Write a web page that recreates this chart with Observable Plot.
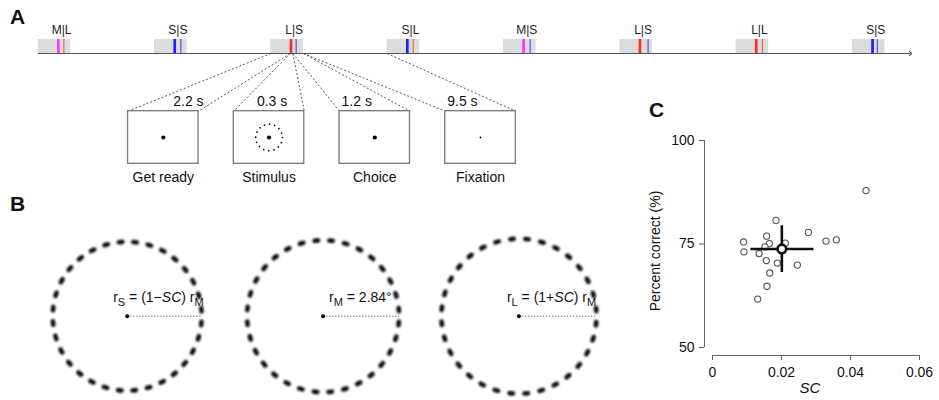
<!DOCTYPE html>
<html>
<head>
<meta charset="utf-8">
<script src="https://cdn.jsdelivr.net/npm/d3@7"></script>
<script src="https://cdn.jsdelivr.net/npm/@observablehq/plot@0.6"></script>
<style>
  body { margin: 0; background: #fff; }
  #fig { position: relative; width: 939px; height: 400px; font-family: "Liberation Sans", Arial, sans-serif; color: #111; }
  .panel { position: absolute; }
  .letter { position: absolute; font-weight: bold; font-size: 21px; line-height: 21px; }
  #panelC g[aria-label="x-axis tick"], #panelC g[aria-label="y-axis tick"] { stroke: #666; }
</style>
</head>
<body>
<div id="fig">
  <div class="letter" style="left:10px;top:5.5px">A</div>
  <div class="letter" style="left:10px;top:193px">B</div>
  <div class="letter" style="left:649px;top:99px">C</div>
  <div class="panel" id="panelA" style="left:0;top:0"></div>
  <div class="panel" id="panelB" style="left:0;top:190px"></div>
  <div class="panel" id="panelC" style="left:630px;top:60px"></div>
</div>
<script>
// ---------------- data ----------------
// Panel A: trial sequence (stimulus size | response) and timing
const trialLabels = ["M|L", "S|S", "L|S", "S|L", "M|S", "L|S", "L|L", "S|S"];
const responseTimes = [0.71, 0.79, 0.68, 0.76, 0.83, 1.02, 0.80, 0.64]; // s after stimulus onset
const epochs = ["Get ready", "Stimulus", "Choice", "Fixation"];
const epochDurations = [2.2, 0.3, 1.2, 9.5]; // s
// Panel B: stimulus ring sizes
const stimulusNames = ["S", "M", "L"];
const rM = 2.84;   // deg
const SC = 0.02;
// Panel C: individual subjects
const subjectSC = [0.0445, 0.0184, 0.0278, 0.0329, 0.0359, 0.0090, 0.0091, 0.0157, 0.0165,
                   0.0152, 0.0135, 0.0156, 0.0188, 0.0246, 0.0166, 0.0158, 0.0131, 0.0211];
const subjectPC = [87.9, 80.7, 77.8, 75.7, 76.0, 75.5, 73.1, 76.9, 75.1,
                   74.3, 72.7, 71.0, 70.4, 69.9, 68.0, 64.8, 61.7, 75.2];
const meanSC = 0.0201, meanSCLo = 0.0111, meanSCHi = 0.0294;
const meanPC = 73.8, meanPCLo = 68.1, meanPCHi = 79.4;
const scTicks = [0, 0.02, 0.04, 0.06];
const pcTicks = [50, 75, 100];

// ---------------- styles / layout ----------------
const FONT = "'Liberation Sans', Arial, sans-serif";
const sizeColors = {S: "#1c1cff", M: "#ff33ff", L: "#ff2a1a"};

// ---------------- Panel A ----------------
{
  const trialPeriod = d3.sum(epochDurations);
  const onset = epochDurations[0];
  const activeDur = epochDurations[0] + epochDurations[1] + epochDurations[2];
  const trials = trialLabels.map((label, i) => ({
    label, stim: label[0], resp: label[2], start: i * trialPeriod, rt: responseTimes[i]
  }));
  const zoomTrial = trials[2];
  const bounds = Array.from(d3.cumsum([0, ...epochDurations]));
  // layout of the magnified boxes (in timeline seconds)
  const DX0 = 10.2, DSTEP = 12.0, DW = 8.0;
  const rows = epochs.map((name, i) => ({
    name, dur: epochDurations[i],
    t0: zoomTrial.start + bounds[i], t1: zoomTrial.start + bounds[i + 1],
    b0: DX0 + i * DSTEP, b1: DX0 + i * DSTEP + DW
  }));
  const connectors = rows.flatMap(r => [{x1: r.t0, x2: r.b0}, {x1: r.t1, x2: r.b1}]);
  const Y_LABEL = 30, Y_TOP = 39, Y_AXIS = 53, D_TOP = 110.7, D_BOT = 163.3, D_MID = 137, Y_DUR = 101.5, Y_CAP = 177;
  const mid = r => (r.b0 + r.b1) / 2;

  const plotA = Plot.plot({
    width: 939, height: 190,
    marginLeft: 37.7, marginRight: 29, marginTop: 0, marginBottom: 0,
    x: {domain: [0, 99], axis: null},
    y: {type: "identity", axis: null},
    color: {type: "identity"},
    style: {fontFamily: FONT, fontSize: "14px", background: "transparent", overflow: "visible", color: "#111"},
    marks: [
      Plot.rect(trials, {x1: "start", x2: d => d.start + activeDur, y1: () => Y_TOP, y2: () => Y_AXIS, fill: "#dcdcdc"}),
      Plot.rect(trials, {x1: d => d.start + onset, x2: d => d.start + onset + epochDurations[1],
        y1: () => Y_TOP, y2: () => Y_AXIS, fill: d => sizeColors[d.stim]}),
      Plot.ruleX(trials, {x: d => d.start + onset + d.rt, y1: () => Y_TOP, y2: () => Y_AXIS,
        stroke: d => sizeColors[d.resp], strokeOpacity: 0.65, strokeWidth: 1.3}),
      Plot.link([0], {x1: () => 0, x2: () => 99, y1: () => Y_AXIS, y2: () => Y_AXIS,
        stroke: "#555", strokeWidth: 1.1, markerEnd: "arrow"}),
      Plot.text(trials, {x: d => d.start + onset + 0.45, y: () => Y_LABEL, text: "label", fontSize: 12, fill: "#222"}),
      Plot.link(connectors, {x1: "x1", x2: "x2", y1: () => Y_AXIS, y2: () => D_TOP,
        stroke: "#444", strokeWidth: 0.9, strokeDasharray: "2,2"}),
      Plot.rect(rows, {x1: "b0", x2: "b1", y1: () => D_TOP, y2: () => D_BOT, fill: "white", stroke: "#777", strokeWidth: 1.3}),
      Plot.dot(rows.filter(r => r.name !== "Fixation"), {x: mid, y: () => D_MID, r: 2.1, fill: "#000"}),
      Plot.dot(rows.filter(r => r.name === "Fixation"), {x: mid, y: () => D_MID, r: 0.9, fill: "#000"}),
      Plot.dot(rows.filter(r => r.name === "Stimulus"), {x: mid, y: () => D_MID, r: 13.3, fill: "none",
        stroke: "#000", strokeWidth: 1.7, strokeLinecap: "round", strokeDasharray: `0.01 ${2 * Math.PI * 13.3 / 16}`}),
      Plot.text(rows.slice(0, 1), {x: "b1", y: () => Y_DUR, text: d => `${d.dur} s`, textAnchor: "end", dx: 5}),
      Plot.text(rows.slice(1, 2), {x: mid, y: () => Y_DUR, text: d => `${d.dur} s`, dx: 3}),
      Plot.text(rows.slice(2), {x: "b0", y: () => Y_DUR, text: d => `${d.dur} s`, textAnchor: "start", dx: 2}),
      Plot.text(rows, {x: mid, y: () => Y_CAP, text: "name"})
    ]
  });
  document.getElementById("panelA").appendChild(plotA);
}

// ---------------- Panel B ----------------
{
  const PX = 26.757; // px per degree
  const C0X = 126.7, C0Y = 125.7, W = 630, H = 210;
  const SPACING = 7.32; // deg between ring centres
  const sign = {S: -1, M: 0, L: 1};
  const stimuli = stimulusNames.map((name, i) => ({name, r: rM * (1 + sign[name] * SC), cx: i * SPACING}));
  const labelParts = {
    S: [["r"], ["S", "sub"], [" = (1\u2212"], ["SC", "it"], [") r"], ["M", "sub"]],
    M: [["r"], ["M", "sub"], [` = ${rM}\u00b0`]],
    L: [["r"], ["L", "sub"], [" = (1+"], ["SC", "it"], [") r"], ["M", "sub"]]
  };
  const labelShift = [-14, 6, -12]; // px, layout
  const BLOB = 3.4, N_BLOBS = 32;
  const ringMarks = stimuli.map(s => {
    const rpx = s.r * PX, period = 2 * Math.PI * rpx / N_BLOBS;
    return Plot.dot([s], {x: "cx", y: () => 0, r: rpx, fill: "none", stroke: "#111", strokeWidth: 4.6,
      strokeLinecap: "round", strokeDasharray: `${BLOB} ${period - BLOB}`,
      strokeDashoffset: BLOB + (period - BLOB) / 2, ariaLabel: () => "stimulus ring"});
  });
  const plotB = Plot.plot({
    width: W, height: H, margin: 0,
    x: {domain: [-C0X / PX, (W - C0X) / PX], axis: null},
    y: {domain: [-(H - C0Y) / PX, C0Y / PX], axis: null},
    style: {fontFamily: FONT, fontSize: "14px", background: "transparent", overflow: "visible", color: "#111"},
    marks: [
      ...ringMarks,
      Plot.link(stimuli, {x1: "cx", x2: d => d.cx + d.r, y1: () => 0, y2: () => 0,
        stroke: "#666", strokeWidth: 1, strokeDasharray: "1.3,1.7"}),
      Plot.dot(stimuli, {x: "cx", y: () => 0, r: 2, fill: "#000"}),
      Plot.text(stimuli, {x: (d, i) => d.cx + labelShift[i] / PX, y: () => 0, dy: -19, textAnchor: "start",
        text: d => labelParts[d.name].map(p => p[0]).join(""), ariaLabel: () => "radius label"})
    ]
  });
  const svg = d3.select(plotB);
  svg.insert("defs", ":first-child").html('<filter id="ringBlur" x="-20%" y="-20%" width="140%" height="140%"><feGaussianBlur stdDeviation="0.85"/></filter>');
  svg.selectAll('[aria-label="stimulus ring"]').attr("filter", "url(#ringBlur)");
  svg.selectAll('text[aria-label="radius label"]').each(function(_, i) {
    const t = d3.select(this).text("");
    let shifted = false;
    for (const [str, kind] of labelParts[stimuli[i].name]) {
      const ts = t.append("tspan").text(str);
      if (kind === "sub") { ts.attr("dy", 4).attr("font-size", 11); shifted = true; }
      else {
        if (shifted) { ts.attr("dy", -4); shifted = false; }
        if (kind === "it") ts.attr("font-style", "italic");
      }
    }
  });
  document.getElementById("panelB").appendChild(plotB);
}

// ---------------- Panel C ----------------
{
  const subjects = subjectSC.map((sc, i) => ({sc, pc: subjectPC[i]}));
  const plotC = Plot.plot({
    width: 309, height: 340,
    marginLeft: 74, marginRight: 20, marginTop: 80, marginBottom: 45,
    x: {domain: [0, 0.06], insetLeft: 8, ticks: scTicks, tickSize: 5, tickPadding: 7, tickFormat: d => String(d), label: null},
    y: {domain: [50, 100], insetBottom: 8, ticks: pcTicks, tickSize: 5, tickPadding: 5, tickFormat: d => String(d), label: null},
    style: {fontFamily: FONT, fontSize: "14px", background: "transparent", overflow: "visible", color: "#111"},
    marks: [
      Plot.ruleX([0], {y1: () => 50, y2: () => 100, dx: -8, stroke: "#666", strokeWidth: 1}),
      Plot.ruleY([50], {x1: () => 0, x2: () => 0.06, dy: 8, stroke: "#666", strokeWidth: 1}),
      Plot.dot(subjects, {x: "sc", y: "pc", r: 3.1, fill: "white", stroke: "#555", strokeWidth: 1.1}),
      Plot.ruleY([meanPC], {x1: () => meanSCLo, x2: () => meanSCHi, stroke: "#111", strokeWidth: 2.6}),
      Plot.ruleX([meanSC], {y1: () => meanPCLo, y2: () => meanPCHi, stroke: "#111", strokeWidth: 2.6}),
      Plot.dot([0], {x: () => meanSC, y: () => meanPC, r: 4.3, fill: "white", stroke: "#111", strokeWidth: 2.6}),
      Plot.text(["Percent correct (%)"], {frameAnchor: "left", textAnchor: "middle", dx: -49, dy: 3, rotate: -90}),
      Plot.text(["SC"], {frameAnchor: "bottom", dx: -2, dy: 37, fontStyle: "italic", fontSize: 15})
    ]
  });
  document.getElementById("panelC").appendChild(plotC);
}
</script>
</body>
</html>
